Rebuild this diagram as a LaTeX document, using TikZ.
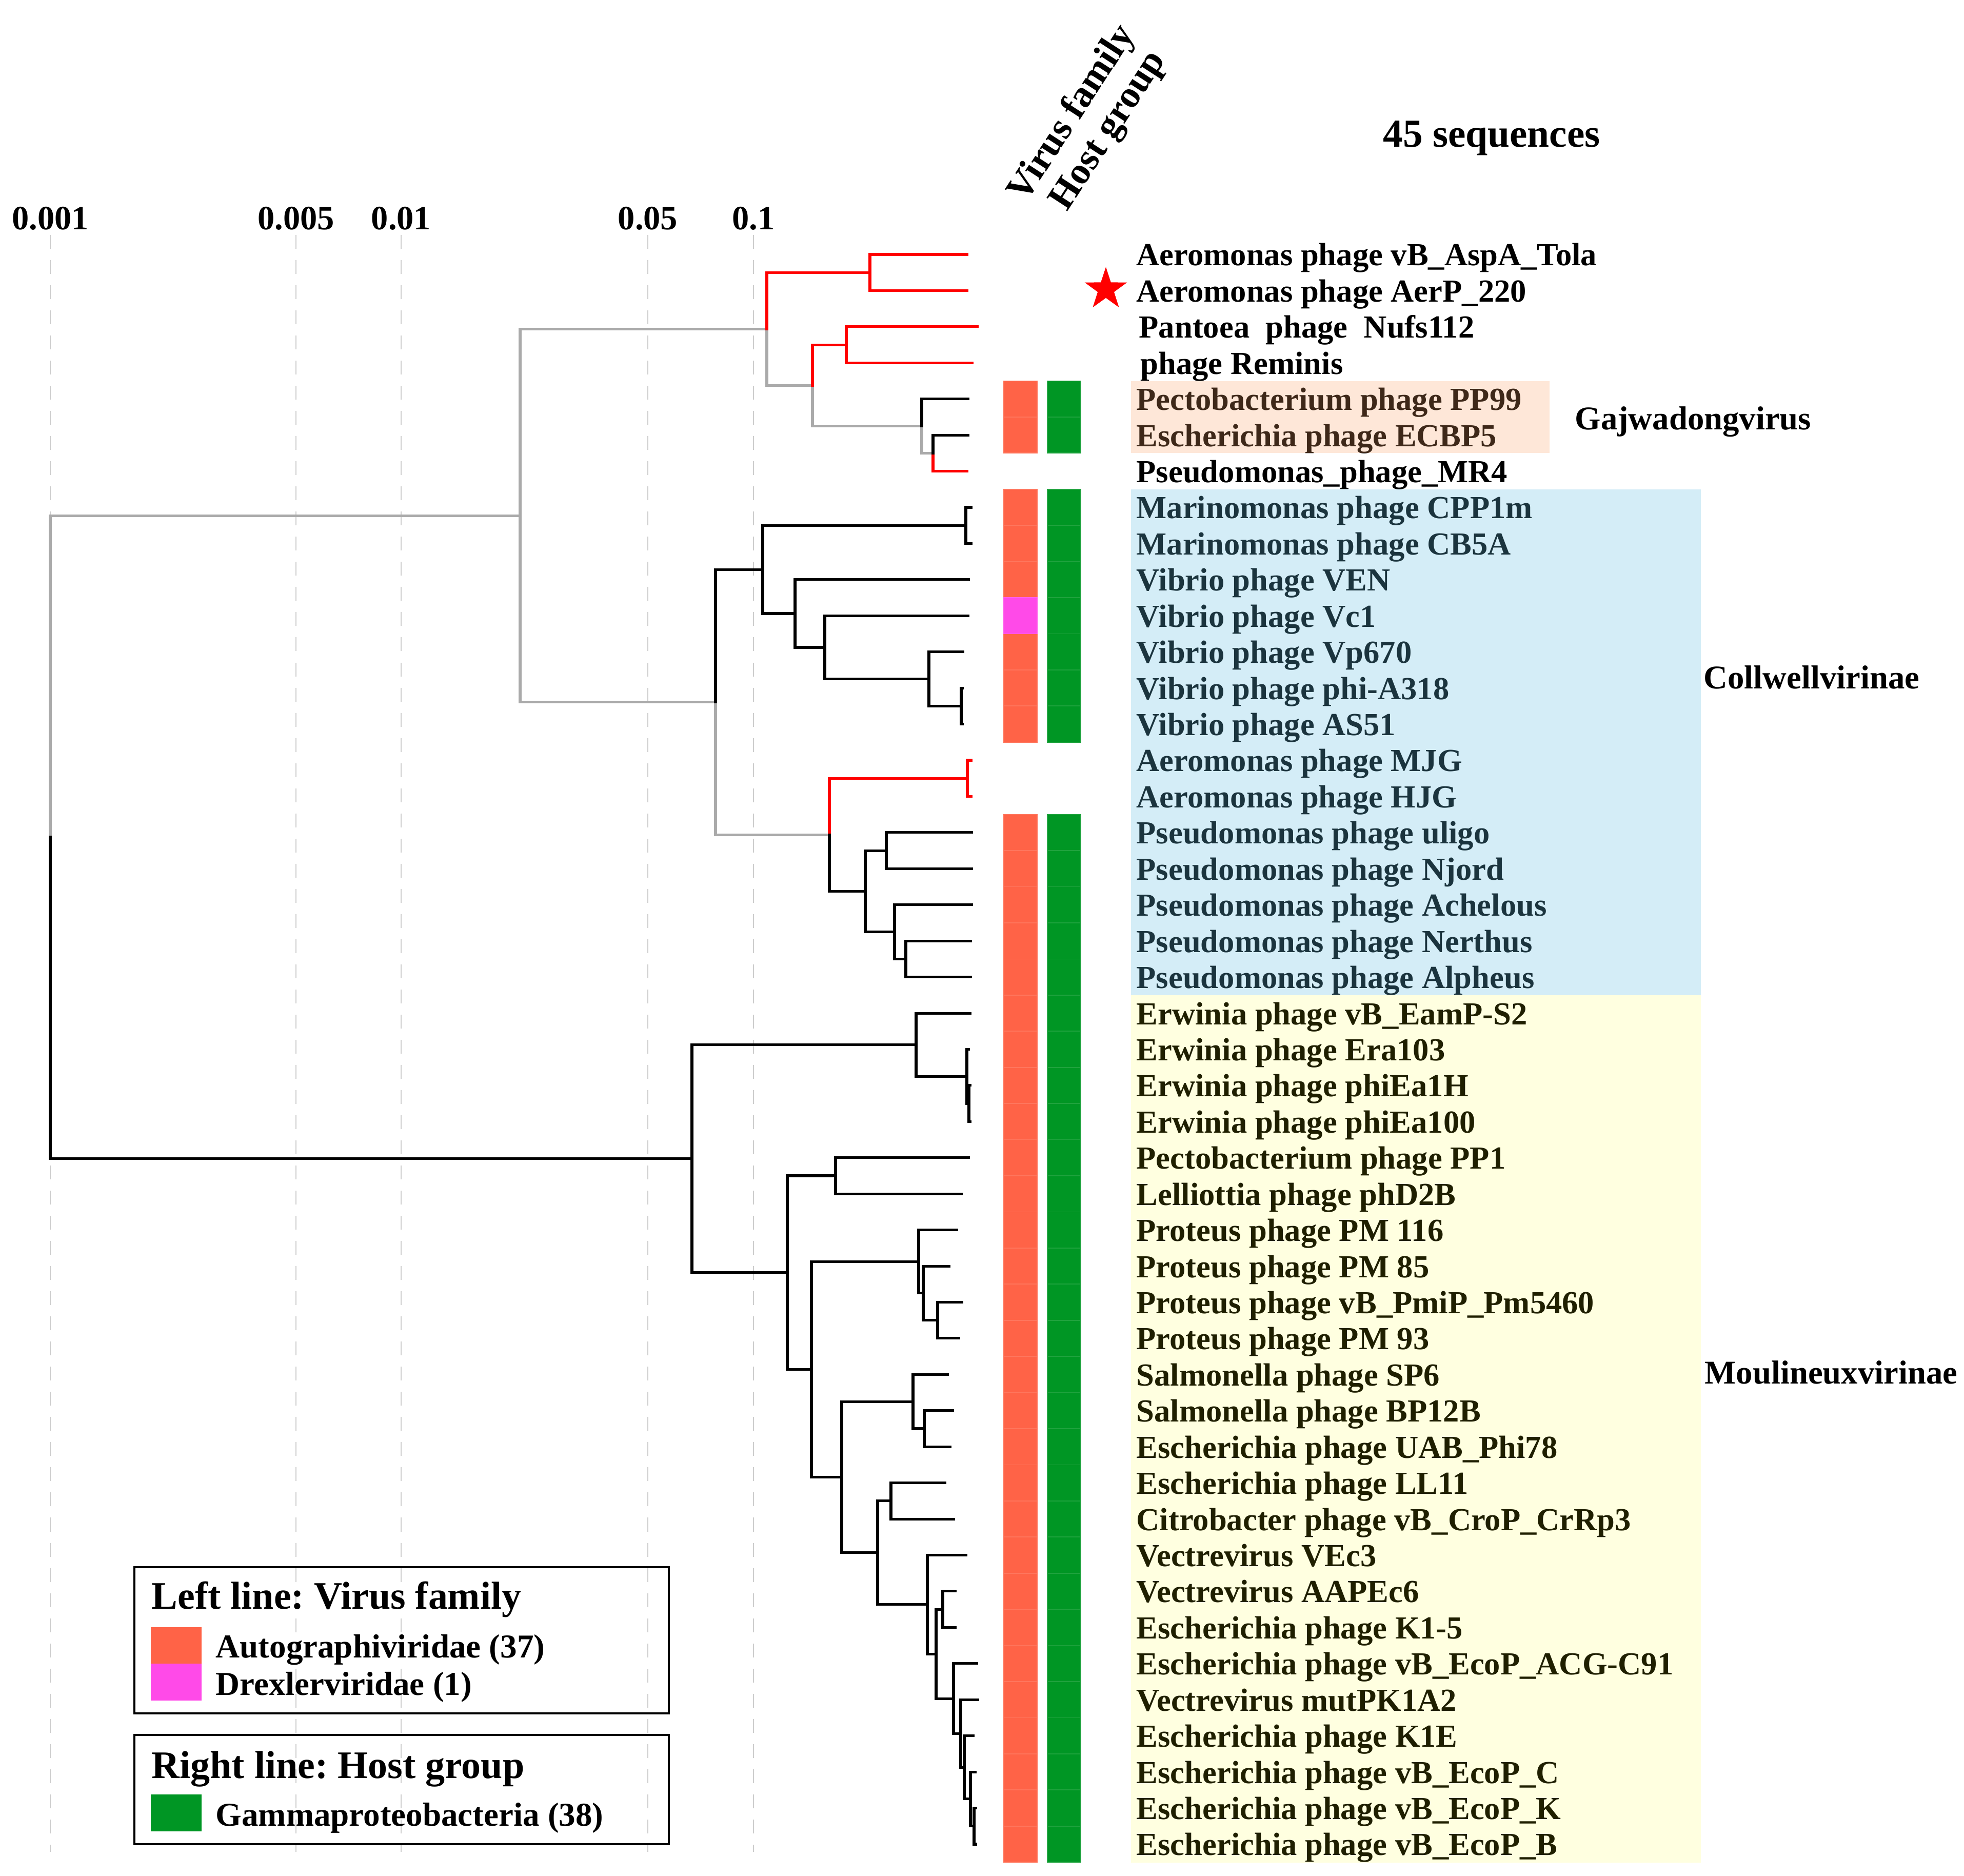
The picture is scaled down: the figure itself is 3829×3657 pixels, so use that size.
\documentclass[tikz,border=0pt]{standalone}
\usepackage{fontspec}
\setmainfont{Liberation Serif}
\usetikzlibrary{shapes.geometric}
\frenchspacing

\begin{document}
\begin{tikzpicture}[x=0.01cm,y=-0.01cm,
    br/.style={line width=1.45pt,line cap=rect},
    greybr/.style={br,color=kGrey},
    redbr/.style={br,color=red},
    gridline/.style={color=kGrid,line width=0.6pt,dash pattern=on 0.27cm off 0.22cm},
    tiplabel/.style={font=\fontsize{17.8}{20}\selectfont\bfseries,anchor=west,inner sep=0pt,text height=0.68em,text depth=0pt,yshift=-0.1cm},
    axlabel/.style={font=\fontsize{18.9}{22}\selectfont\bfseries,inner sep=0pt,text height=0.68em,text depth=0pt,yshift=-0.14cm},
    cladelabel/.style={tiplabel,font=\fontsize{18.4}{21}\selectfont\bfseries},
    header/.style={font=\fontsize{21}{24}\selectfont\bfseries,rotate=57,anchor=base west,inner sep=0pt},
    legtitle/.style={tiplabel,font=\fontsize{21.6}{24}\selectfont\bfseries,yshift=-0.03cm},
    legitem/.style={tiplabel,font=\fontsize{18.5}{21}\selectfont\bfseries,yshift=-0.03cm},
    legbox/.style={draw=black,line width=1.1pt},
    cellA/.style={fill=famA,draw=famA!88!white,line width=0.5pt},
    cellB/.style={fill=famB,draw=famB!88!white,line width=0.5pt},
    cellH/.style={fill=hostG,draw=hostG!88!white,line width=0.5pt}]
  \definecolor{kGrey}{RGB}{170,170,170}
  \definecolor{kGrid}{RGB}{205,205,205}
  \definecolor{famA}{RGB}{255,99,71}
  \definecolor{famB}{RGB}{255,74,232}
  \definecolor{hostG}{RGB}{0,150,36}
  \definecolor{hlPeach}{RGB}{250,160,100}
  \definecolor{hlBlue}{RGB}{100,190,225}
  \definecolor{hlYellow}{RGB}{255,255,0}

  \useasboundingbox (0,0) rectangle (3829,3657);

  % scale and grid
  \foreach \gx/\lab [count=\k] in {98/0.001, 577/0.005, 782/0.01, 1263/0.05, 1469/0.1} {
    \node[axlabel] (ax\k) at (\gx,422) {\lab};
    \draw[gridline] (\gx,458) -- (\gx,3610);
  }

  \node[font=\fontsize{22}{25}\selectfont\bfseries,yshift=-0.07cm] (nseq) at (2908,262) {45 sequences};
  \node[header] (hdfam) at (1999,397) {Virus family};
  \node[header] (hdhost) at (2080,414) {Host group};

  % tree nodes
  \coordinate (root) at (98,1631.9);
  \coordinate (nA) at (1014,1005.1);
  \coordinate (nB) at (1495,641.3);
  \coordinate (nB1) at (1696,531.2);
  \coordinate (nB2) at (1584,751.3);
  \coordinate (nB2a) at (1650,672.1);
  \coordinate (nB2b) at (1797,830.6);
  \coordinate (nB2c) at (1819,883.4);
  \coordinate (nC) at (1395,1368.8);
  \coordinate (nC1) at (1487,1110.1);
  \coordinate (nC1a) at (1883,1024.2);
  \coordinate (nC1b) at (1550,1196.0);
  \coordinate (nC1c) at (1608,1262.0);
  \coordinate (nC1d) at (1811,1323.6);
  \coordinate (nC1e) at (1874,1376.4);
  \coordinate (nC2) at (1617,1627.4);
  \coordinate (nC2a) at (1886,1517.3);
  \coordinate (nC2b) at (1687,1737.4);
  \coordinate (nC2c) at (1728,1658.1);
  \coordinate (nC2d) at (1744,1816.6);
  \coordinate (nC2e) at (1766,1869.4);
  \coordinate (nD) at (1349,2258.7);
  \coordinate (nD1) at (1786,2036.7);
  \coordinate (nD1a) at (1885,2098.3);
  \coordinate (nD1b) at (1889,2151.1);
  \coordinate (nD2) at (1535,2480.7);
  \coordinate (nD2a) at (1629,2292.0);
  \coordinate (nD2b) at (1582,2669.4);
  \coordinate (nD2c) at (1791,2459.3);
  \coordinate (nD2d) at (1641,2879.5);
  \coordinate (nE) at (1828,2573.7);
  \coordinate (nF) at (1800,2520.9);
  \coordinate (nG) at (1780,2732.2);
  \coordinate (nH) at (1802,2785.0);
  \coordinate (nI) at (1711,3026.8);
  \coordinate (nJ) at (1737,2925.8);
  \coordinate (nK) at (1808,3127.8);
  \coordinate (nL) at (1825,3224.1);
  \coordinate (nM) at (1838,3137.1);
  \coordinate (nN) at (1859,3311.1);
  \coordinate (nO) at (1873,3379.3);
  \coordinate (nP) at (1880,3445.3);
  \coordinate (nQ) at (1892,3506.9);
  \coordinate (nR) at (1899,3559.7);
  \foreach \tx [count=\i] in {1885,1885,1905,1895,1887,1887,1885,1893,1893,1888,
      1887,1877,1876,1876,1893,1893,1894,1894,1894,1892,1892,1891,1888,1891,1891,
      1888,1874,1865,1850,1875,1869,1847,1857,1852,1842,1859,1883,1862,1862,1904,
      1906,1897,1901,1902,1902}
    \coordinate (t\i) at (\tx,{496+(\i-1)*70.43});

  % branches
  \draw[greybr] (root) |- (nA);
  \draw[br] (root) |- (nD);
  \draw[greybr] (nA) |- (nB) (nA) |- (nC) (nB) |- (nB2) (nB2) |- (nB2b) (nB2b) |- (nB2c);
  \draw[redbr] (nB) |- (nB1) (nB1) |- (t1) (nB1) |- (t2);
  \draw[redbr] (nB2) |- (nB2a) (nB2a) |- (t3) (nB2a) |- (t4) (nB2c) |- (t7);
  \draw[br] (nB2b) |- (t5) (nB2c) |- (t6);

  \draw[greybr] (nC) |- (nC2);
  \draw[br] (nC) |- (nC1) (nC1) |- (nC1a) (nC1a) |- (t8) (nC1a) |- (t9)
    (nC1) |- (nC1b) (nC1b) |- (t10) (nC1b) |- (nC1c) (nC1c) |- (t11)
    (nC1c) |- (nC1d) (nC1d) |- (t12) (nC1d) |- (nC1e) (nC1e) |- (t13) (nC1e) |- (t14);
  \draw[redbr] (nC2) |- (nC2a) (nC2a) |- (t15) (nC2a) |- (t16);
  \draw[br] (nC2) |- (nC2b) (nC2b) |- (nC2c) (nC2c) |- (t17) (nC2c) |- (t18)
    (nC2b) |- (nC2d) (nC2d) |- (t19) (nC2d) |- (nC2e) (nC2e) |- (t20) (nC2e) |- (t21);

  \draw[br] (nD) |- (nD1) (nD1) |- (t22) (nD1) |- (nD1a) (nD1a) |- (t23)
    (nD1a) |- (nD1b) (nD1b) |- (t24) (nD1b) |- (t25);
  \draw[br] (nD) |- (nD2) (nD2) |- (nD2a) (nD2a) |- (t26) (nD2a) |- (t27)
    (nD2) |- (nD2b) (nD2b) |- (nD2c) (nD2c) |- (t28) (nD2c) |- (nF)
    (nF) |- (t29) (nF) |- (nE) (nE) |- (t30) (nE) |- (t31);
  \draw[br] (nD2b) |- (nD2d) (nD2d) |- (nG) (nG) |- (t32) (nG) |- (nH)
    (nH) |- (t33) (nH) |- (t34);
  \draw[br] (nD2d) |- (nI) (nI) |- (nJ) (nJ) |- (t35) (nJ) |- (t36)
    (nI) |- (nK) (nK) |- (t37) (nK) |- (nL) (nL) |- (nM) (nM) |- (t38) (nM) |- (t39)
    (nL) |- (nN) (nN) |- (t40) (nN) |- (nO) (nO) |- (t41) (nO) |- (nP)
    (nP) |- (t42) (nP) |- (nQ) (nQ) |- (t43) (nQ) |- (nR) (nR) |- (t44) (nR) |- (t45);

  % annotation bars
  \foreach \i in {5,6,8,9,10,12,13,14,17,18,...,45} {
    \pgfmathsetmacro{\ry}{496+(\i-1)*70.43}
    \filldraw[cellA] (1957,{\ry-35.2}) rectangle (2022,{\ry+35.2});
  }
  \filldraw[cellB] (1957,{1200.3-35.2}) rectangle (2022,{1200.3+35.2});
  \foreach \i in {5,6,8,9,...,14,17,18,...,45} {
    \pgfmathsetmacro{\ry}{496+(\i-1)*70.43}
    \filldraw[cellH] (2042,{\ry-35.2}) rectangle (2107,{\ry+35.2});
  }

  % tip labels
  \foreach \name [count=\i] in {Aeromonas phage vB\_AspA\_Tola, Aeromonas phage AerP\_220,
      \hspace*{0.05cm}Pantoea~ phage~ Nufs112, \hspace*{0.08cm}phage Reminis,
      Pectobacterium phage PP99, Escherichia phage ECBP5, Pseudomonas\_phage\_MR4,
      Marinomonas phage CPP1m, Marinomonas phage CB5A, Vibrio phage VEN, Vibrio phage Vc1,
      Vibrio phage Vp670, Vibrio phage phi-A318, Vibrio phage AS51, Aeromonas phage MJG,
      Aeromonas phage HJG, Pseudomonas phage uligo, Pseudomonas phage Njord,
      Pseudomonas phage Achelous, Pseudomonas phage Nerthus, Pseudomonas phage Alpheus,
      Erwinia phage vB\_EamP-S2, Erwinia phage Era103, Erwinia phage phiEa1H,
      Erwinia phage phiEa100, Pectobacterium phage PP1, Lelliottia phage phD2B,
      Proteus phage PM 116, Proteus phage PM 85, Proteus phage vB\_PmiP\_Pm5460,
      Proteus phage PM 93, Salmonella phage SP6, Salmonella phage BP12B,
      Escherichia phage UAB\_Phi78, Escherichia phage LL11, Citrobacter phage vB\_CroP\_CrRp3,
      Vectrevirus VEc3, Vectrevirus AAPEc6, Escherichia phage K1-5,
      Escherichia phage vB\_EcoP\_ACG-C91, Vectrevirus mutPK1A2, Escherichia phage K1E,
      Escherichia phage vB\_EcoP\_C, Escherichia phage vB\_EcoP\_K, Escherichia phage vB\_EcoP\_B}
    \node[tiplabel] (lab\i) at (2215,{496+(\i-1)*70.43}) {\name};

  \node[star,star points=5,star point ratio=2.6,fill=red,minimum size=0.87cm,inner sep=0pt] (mark) at (2156,564) {};

  % clade highlights
  \fill[hlPeach,fill opacity=0.25] (2205,743) rectangle (3021,883);
  \fill[hlBlue,fill opacity=0.28] (2205,954) rectangle (3316,1940);
  \fill[hlYellow,fill opacity=0.12] (2205,1940) rectangle (3316,3631);

  \node[cladelabel] (gajw) at (3070,816) {Gajwadongvirus};
  \node[cladelabel] (collw) at (3321,1321) {Collwellvirinae};
  \node[cladelabel] (mouli) at (3323,2676) {Moulineuxvirinae};

  % legends
  \draw[legbox] (262,3055) rectangle (1304,3340);
  \node[legtitle] (legfam) at (295,3112) {Left line: Virus family};
  \fill[famA] (294,3172) rectangle (393,3243);
  \fill[famB] (294,3243) rectangle (393,3315);
  \node[legitem] (legauto) at (420,3207) {Autographiviridae (37)};
  \node[legitem] (legdrex) at (420,3279) {Drexlerviridae (1)};

  \draw[legbox] (262,3382) rectangle (1304,3595);
  \node[legtitle] (leghost) at (295,3441) {Right line: Host group};
  \fill[hostG] (294,3498) rectangle (393,3570);
  \node[legitem] (leggamma) at (420,3534) {Gammaproteobacteria (38)};

\end{tikzpicture}
\end{document}
